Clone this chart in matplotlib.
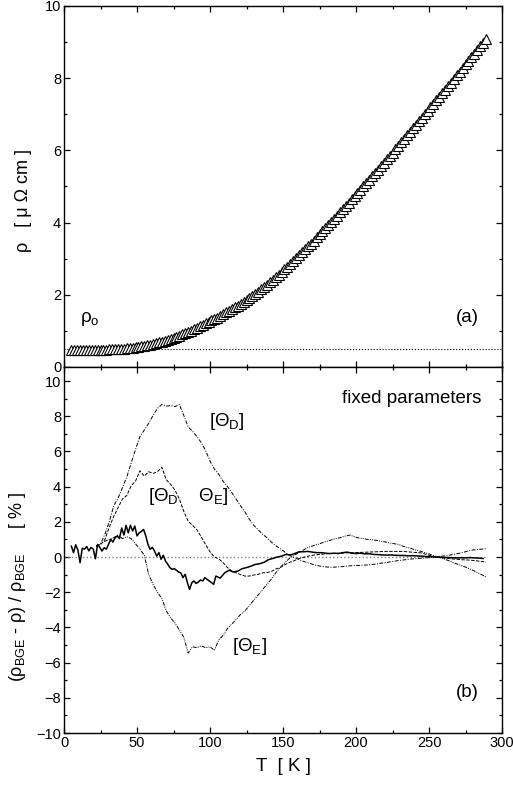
import numpy as np
import matplotlib
matplotlib.use("Agg")
import matplotlib.pyplot as plt
from matplotlib.ticker import MultipleLocator

plt.rcParams["font.family"] = ["Liberation Sans", "DejaVu Sans"]
plt.rcParams["mathtext.default"] = "regular"

# resistivity data, panel (a)
T_rho = np.arange(5, 291, 2)
rho = [0.47, 0.47, 0.47, 0.47, 0.47, 0.47, 0.47, 0.47, 0.47, 0.475,
       0.475, 0.48, 0.48, 0.485, 0.49, 0.49, 0.495, 0.50, 0.51, 0.515,
       0.525, 0.535, 0.545, 0.555, 0.57, 0.585, 0.60, 0.62, 0.64, 0.66,
       0.68, 0.705, 0.73, 0.755, 0.78, 0.81, 0.84, 0.87, 0.90, 0.93,
       0.97, 1.01, 1.05, 1.09, 1.13, 1.17, 1.21, 1.25, 1.29, 1.33,
       1.37, 1.42, 1.46, 1.51, 1.55, 1.60, 1.65, 1.70, 1.75, 1.80,
       1.85, 1.91, 1.97, 2.03, 2.09, 2.15, 2.22, 2.28, 2.35, 2.42,
       2.49, 2.56, 2.63, 2.71, 2.78, 2.86, 2.94, 3.02, 3.10, 3.18,
       3.26, 3.34, 3.42, 3.50, 3.59, 3.67, 3.76, 3.84, 3.93, 4.02,
       4.10, 4.19, 4.28, 4.37, 4.46, 4.55, 4.64, 4.73, 4.82, 4.91,
       5.00, 5.09, 5.18, 5.28, 5.37, 5.46, 5.56, 5.65, 5.75, 5.84,
       5.94, 6.03, 6.13, 6.22, 6.32, 6.42, 6.51, 6.61, 6.71, 6.80,
       6.90, 7.00, 7.10, 7.19, 7.29, 7.39, 7.49, 7.59, 7.68, 7.78,
       7.88, 7.98, 8.08, 8.18, 8.28, 8.38, 8.48, 8.58, 8.68, 8.78,
       8.88, 8.98, 9.08]
rho_0 = 0.49

# deviation of the free fit, panel (b)
T_free = np.concatenate([np.arange(5, 105, 1.5), np.arange(107, 290, 3)])
dev_free = [0.62, 0.25, 0.70, 0.40, -0.32, 0.50, 0.45, 0.60, 0.35, 0.55,
            0.45, -0.10, 0.72, 0.55, 0.34, 0.53, 0.45, 0.72, 1.00, 0.85,
            1.10, 1.20, 1.05, 1.65, 1.25, 1.80, 1.38, 1.80, 1.48, 1.76,
            1.20, 1.38, 1.45, 1.57, 1.20, 0.72, 0.44, 0.55, 0.34, 0.05,
            0.25, -0.13, 0.10, -0.23, -0.40, -0.60, -0.70, -0.66, -0.75, -0.85,
            -0.90, -1.17, -0.98, -1.46, -1.84, -1.46, -1.36, -1.50, -1.42, -1.30,
            -1.36, -1.17, -1.27, -1.36, -1.45, -1.55, -1.08,
            -1.20, -0.90, -0.75, -0.85, -0.80, -0.66, -0.60, -0.52, -0.42, -0.38,
            -0.30, -0.15, -0.08, 0.00, 0.05, 0.15, 0.12, 0.20, 0.30, 0.30,
            0.32, 0.28, 0.25, 0.25, 0.22, 0.20, 0.22, 0.20, 0.25, 0.28,
            0.22, 0.20, 0.22, 0.18, 0.19, 0.15, 0.14, 0.12, 0.11, 0.12,
            0.10, 0.09, 0.09, 0.07, 0.08, 0.06, 0.05, 0.03, 0.02, 0.00,
            0.00, -0.02, -0.03, -0.04, -0.05, -0.04, -0.05, -0.03, -0.05, -0.06,
            -0.08]

# deviations with fixed parameters
T_fix = np.arange(22, 290, 3)
dev_D = [0.60, 0.75, 1.30, 2.00, 2.90, 3.35, 3.94, 4.55, 5.35, 6.12,
         6.85, 7.22, 7.60, 8.05, 8.45, 8.67, 8.58, 8.60, 8.55, 8.67,
         8.05, 7.40, 7.15, 6.85, 6.50, 6.05, 5.45, 5.00, 4.70, 4.30,
         4.00, 3.65, 3.28, 2.90, 2.55, 2.14, 1.80, 1.55, 1.30, 1.10,
         0.85, 0.65, 0.48, 0.30, 0.12, 0.00, -0.10, -0.22, -0.30, -0.38,
         -0.45, -0.51, -0.55, -0.57, -0.58, -0.56, -0.55, -0.52, -0.50, -0.47,
         -0.48, -0.46, -0.45, -0.42, -0.40, -0.35, -0.32, -0.28, -0.24, -0.20,
         -0.17, -0.14, -0.11, -0.09, -0.07, -0.05, -0.03, -0.01, 0.02, 0.05,
         0.08, 0.12, 0.17, 0.22, 0.28, 0.35, 0.40, 0.43, 0.45, 0.47]
dev_DE = [0.65, 0.70, 1.00, 1.70, 2.30, 2.80, 3.30, 3.50, 4.05, 4.32,
          4.90, 4.60, 4.85, 4.75, 4.85, 5.10, 4.40, 4.13, 3.80, 3.30,
          2.60, 2.05, 1.80, 1.55, 1.15, 0.70, 0.30, 0.00, -0.10, -0.32,
          -0.60, -0.80, -0.90, -1.00, -1.08, -1.08, -1.02, -0.98, -0.90, -0.88,
          -0.82, -0.68, -0.60, -0.45, -0.32, -0.23, -0.12, -0.04, 0.03, 0.08,
          0.12, 0.15, 0.17, 0.19, 0.20, 0.21, 0.22, 0.24, 0.25, 0.25,
          0.26, 0.27, 0.28, 0.29, 0.30, 0.31, 0.32, 0.32, 0.32, 0.32,
          0.32, 0.30, 0.28, 0.26, 0.24, 0.18, 0.10, 0.04, -0.01, -0.04,
          -0.07, -0.10, -0.12, -0.14, -0.16, -0.17, -0.19, -0.22, -0.25, -0.28]
dev_E = [0.60, 0.75, 0.90, 1.00, 1.10, 1.25, 1.05, 1.15, 1.05, 0.75,
         0.45, 0.10, -1.00, -1.55, -2.00, -2.35, -3.05, -3.45, -3.75, -4.15,
         -4.55, -5.45, -5.10, -5.15, -5.05, -5.15, -5.10, -5.30, -4.70, -4.45,
         -4.05, -3.80, -3.54, -3.25, -3.05, -2.75, -2.45, -2.15, -1.85, -1.55,
         -1.25, -0.90, -0.60, -0.35, -0.10, 0.08, 0.20, 0.35, 0.50, 0.60,
         0.68, 0.75, 0.85, 0.92, 1.00, 1.06, 1.12, 1.20, 1.25, 1.15,
         1.08, 1.05, 1.00, 0.98, 0.95, 0.90, 0.86, 0.80, 0.76, 0.72,
         0.62, 0.55, 0.48, 0.40, 0.33, 0.25, 0.18, 0.08, 0.00, -0.08,
         -0.16, -0.26, -0.36, -0.45, -0.54, -0.64, -0.75, -0.88, -1.00, -1.12]


def style_axes(ax):
    ax.set_xlim(0, 300)
    ax.xaxis.set_major_locator(MultipleLocator(50))
    ax.xaxis.set_minor_locator(MultipleLocator(25))
    ax.yaxis.set_major_locator(MultipleLocator(2))
    ax.yaxis.set_minor_locator(MultipleLocator(1))
    ax.tick_params(which="both", direction="in", top=True, right=True,
                   labelsize=10.5, width=0.9, pad=2)
    ax.tick_params(which="major", length=4.5)
    ax.tick_params(which="minor", length=2.2)
    for sp in ax.spines.values():
        sp.set_linewidth(1.0)


fig = plt.figure(figsize=(5.13, 7.85), dpi=100)
ax1 = fig.add_axes([0.1248, 0.5325, 0.8538, 0.4599])
ax2 = fig.add_axes([0.1248, 0.0662, 0.8538, 0.4663])

# (a) resistivity
style_axes(ax1)
ax1.set_ylim(0, 10)
ax1.plot([0, 300], [rho_0, rho_0], ":", color="black", lw=0.8)
ax1.plot(T_rho, rho, "^", ms=6.5, mfc="white", mec="black", mew=0.8)
ax1.tick_params(labelbottom=False)
ax1.set_ylabel("ρ   [ μ Ω cm ]", fontsize=13)
ax1.yaxis.set_label_coords(-0.073, 0.46)
ax1.text(11, 1.25, "ρ$_o$", fontsize=13.5)
ax1.text(284, 1.25, "(a)", fontsize=13.5, ha="right")

# (b) relative deviations
style_axes(ax2)
ax2.set_ylim(-10, 10.8)
ax2.plot([0, 290], [0, 0], ":", color="#808080", lw=1.0)
ax2.plot(T_fix, dev_D, color="black", lw=0.7, dashes=(4, 1.5, 1, 1.5))
ax2.plot(T_fix, dev_DE, color="black", lw=0.7, dashes=(3.5, 1.5))
ax2.plot(T_fix, dev_E, color="black", lw=0.7, dashes=(4, 1.2, 1, 1.2, 1, 1.2))
ax2.plot(T_free, dev_free, color="black", lw=1.1)

ax2.text(286, 9.0, "fixed parameters", fontsize=13.5, ha="right", va="center")
ax2.text(99, 7.7, "[Θ$_D$]", fontsize=13.5, va="center")
ax2.text(57.5, 3.45, "[Θ$_D$    Θ$_E$]", fontsize=13.5, va="center")
ax2.text(115, -5.1, "[Θ$_E$]", fontsize=13.5, va="center")
ax2.text(284, -7.7, "(b)", fontsize=13.5, ha="right", va="center")

ax2.set_xlabel("T  [ K ]", fontsize=13.5)
ax2.xaxis.set_label_coords(0.5, -0.068)
ax2.set_ylabel("(ρ$_{BGE}$ - ρ) / ρ$_{BGE}$     [ % ]", fontsize=13)
ax2.yaxis.set_label_coords(-0.083, 0.4)

fig.savefig("out.png", dpi=100)
